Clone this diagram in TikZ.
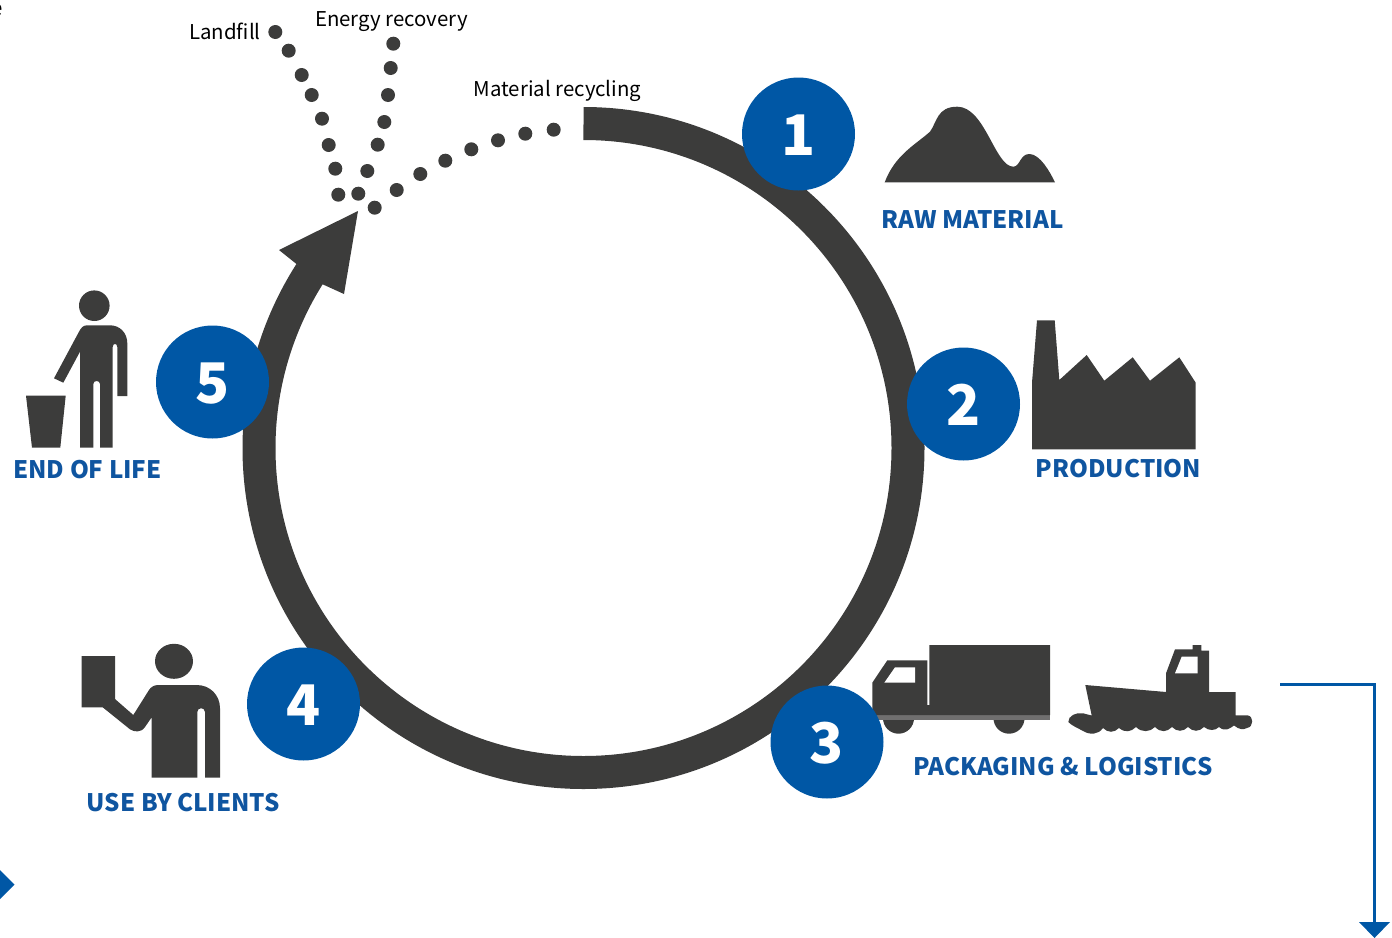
\documentclass[tikz,border=0pt]{standalone}
\usepackage{fontspec}
\setmainfont{Noto Sans CJK SC}
\definecolor{stepblue}{HTML}{0057A5}
\definecolor{labelblue}{HTML}{0F55A0}
\definecolor{darkgrey}{HTML}{3C3C3B}
\definecolor{midgrey}{HTML}{706F6F}
\begin{document}
\begin{tikzpicture}[x=1pt,y=-1pt,
                    step node/.style={circle,fill=stepblue,text=white,minimum size=113pt,inner sep=0pt,text height=43pt,text depth=0pt,font=\fontsize{56}{56}\selectfont\bfseries},
                    title node/.style={text=labelblue,inner sep=0pt,font=\fontsize{24.1}{28}\selectfont\bfseries},
                    waste node/.style={text=black,inner sep=0pt,font=\fontsize{20.4}{24}\selectfont},
                    dot node/.style={circle,fill=darkgrey,minimum size=14pt,inner sep=0pt},
                    icon/.style={fill=darkgrey},
                    flow/.style={draw=stepblue,line width=3.2pt}]
        \useasboundingbox (0,0) rectangle (1392,937);

        % Define ring and arrow head
        \coordinate (centre) at (583.5,448);
        \draw[darkgrey,line width=33pt] (583.5,123.5) arc[start angle=-90,end angle=212.7,radius=324.5];
        \fill[darkgrey] (358,211) -- (279,250) -- (299,266) -- (322,284) -- (344,294) -- cycle;

        % Define dots
        \foreach \x/\y [count=\i] in {275.3/32,288.7/50.7,301.7/75,311.7/95,322/118.7,328.7/145,335.3/168.7,338.3/194.7}
            \node[dot node] (landfill\i) at (\x,\y) {};
        \foreach \x/\y [count=\i] in {393.3/43.7,390.7/68,388/95,384.3/122,377.7/144.7,367.3/171,358.3/193.7}
            \node[dot node] (energy\i) at (\x,\y) {};
        \foreach \x/\y [count=\i] in {553.7/129.7,525.3/133.7,498/140.3,471.3/149.3,445.3/160.7,420.3/174,396.7/190,374.7/207.7}
            \node[dot node] (recycling\i) at (\x,\y) {};

        % Define icons
        \fill[icon] (884.7,182.3) .. controls (895,155) and (915,145) .. (930,131.7)
            .. controls (937,122) and (937,106.7) .. (957.3,106.7)
            .. controls (985,106.7) and (995,166.7) .. (1013.3,166.7)
            .. controls (1020,166.7) and (1020,154) .. (1029.3,154)
            .. controls (1040,154) and (1050,172) .. (1055,182.3) -- cycle;
        \fill[icon] (1032,449.3) -- (1195.7,449.3) -- (1195.7,382.7) -- (1179.3,357.3) -- (1150,380.7) -- (1132.7,357.3)
            -- (1104.3,380.7) -- (1086.7,355) -- (1059.3,380) -- (1054.7,320.3) -- (1037,320.3) -- (1032,382.7) -- cycle;
        % truck
        \fill[icon] (898.5,718.2) circle[radius=15.5];
        \fill[icon] (1009,718.2) circle[radius=15.5];
        \fill[midgrey] (876,715) rectangle (1050,720);
        \fill[icon] (872.3,715) -- (872.3,682.7) -- (887.3,660.3) -- (927.3,660.3) -- (927.3,705) -- (929.3,705)
            -- (929.3,645) -- (1050,645) -- (1050,715) -- cycle;
        \fill[white] (895,667.3) -- (915,667.3) -- (915,682.7) -- (884.3,682.7) -- cycle;
        % ship
        \fill[icon] (1085.3,685) -- (1166,692) -- (1166,673.3) -- (1175,649.3) -- (1192.7,649.3) -- (1192.7,645) -- (1201.3,645)
            -- (1201.3,650.7) -- (1209,650.7) -- (1209,692) -- (1235.7,692) -- (1235.7,715.3) -- (1247,715.3)
            .. controls (1254,715.5) and (1254,727) .. (1247,728)
            .. controls (1243,730) and (1239,729.5) .. (1234,725.5)
            .. controls (1229,729) and (1225,732) .. (1219,727)
            .. controls (1215,731) and (1209,731) .. (1204,727)
            .. controls (1199,732) and (1193,732) .. (1188,727)
            .. controls (1183,732) and (1177,732) .. (1172,727)
            .. controls (1167,732) and (1161,733) .. (1155,727)
            .. controls (1150,732) and (1142,733) .. (1136,727)
            .. controls (1131,732) and (1125,733) .. (1119,728)
            .. controls (1114,733) and (1108,733) .. (1103,728)
            .. controls (1098,735) and (1090,735) .. (1083,731)
            .. controls (1078,728) and (1072,726) .. (1068.3,722)
            .. controls (1068,716) and (1076,712) .. (1083,713.3)
            -- (1091.7,715.5) -- cycle;
        \fill[white] (1181.7,656.7) -- (1197.7,656.7) -- (1197.7,673.3) -- (1175,673.3) -- cycle;
        % client
        \fill[icon] (174,661.3) ellipse[x radius=19,y radius=17.5];
        \fill[icon] (81.7,656) -- (115,656) -- (115,699) -- (133.3,715) -- (149,690)
            .. controls (151,687) and (154,685) .. (158.3,685) -- (196.7,685)
            .. controls (210,685) and (220,695) .. (220,708.3) -- (220,777.7) -- (205,777.7) -- (205,712)
            .. controls (205,707) and (197.3,707) .. (197.3,712) -- (197.3,777.7) -- (151.7,777.7) -- (151.7,717.3)
            -- (145,727) .. controls (141,733) and (134,732) .. (130,729.3) -- (102.7,707.3) -- (81.7,707.3) -- cycle;
        % end of life
        \fill[icon] (94.3,305.7) circle[radius=15.3];
        \fill[icon] (79,331.7) -- (54,378.3) -- (63.3,382.7) -- (80,351.7) -- (80,447.7) -- (93.3,447.7) -- (93.3,384)
            .. controls (93.3,380) and (100,380) .. (100,384) -- (100,447.7) -- (112.7,447.7) -- (112.7,347)
            .. controls (112.7,343) and (117.3,343) .. (117.3,347) -- (117.3,396) -- (127.3,396) -- (127.3,343.3)
            .. controls (127.3,333) and (120,325.3) .. (110,325.3) -- (87,325.3)
            .. controls (83,325.3) and (81,328) .. (79,331.7) -- cycle;
        \fill[icon] (26,395.7) -- (65.7,395.7) -- (60.3,447.7) -- (32,447.7) -- cycle;

        % Define steps
        \node[step node] (step1) at (798.5,134) {1};
        \node[step node] (step2) at (963.5,404) {2};
        \node[step node] (step3) at (827,742) {3};
        \node[step node] (step4) at (303.5,704) {4};
        \node[step node] (step5) at (212.5,382) {5};

        % Define labels
        \node[title node] (raw) at (972.5,220) {RAW MATERIAL};
        \node[title node] (production) at (1118.5,469) {PRODUCTION};
        \node[title node] (logistics) at (1063,767) {PACKAGING \& LOGISTICS};
        \node[title node] (clients) at (183.5,803) {USE BY CLIENTS};
        \node[title node] (endoflife) at (87.5,470) {END OF LIFE};
        \node[waste node] (landfill) at (225,31) {Landfill};
        \node[waste node] (energy) at (391.5,21.5) {Energy recovery};
        \node[waste node] (recycling) at (557.5,90.5) {Material recycling};
        \node[waste node,anchor=east] (cut) at (3,10) {e};

        % Define flow line and marks
        \coordinate (flowstart) at (1280,684.5);
        \coordinate (flowcorner) at (1374.5,684.5);
        \coordinate (flowend) at (1374.5,925);
        \draw[flow] (flowstart) -- (flowcorner) -- (flowend);
        \fill[stepblue] (1359,922) -- (1390,922) -- (1374.5,938) -- cycle;
        \fill[stepblue] (0,870) -- (14.5,884.5) -- (0,899) -- cycle;
\end{tikzpicture}
\end{document}
